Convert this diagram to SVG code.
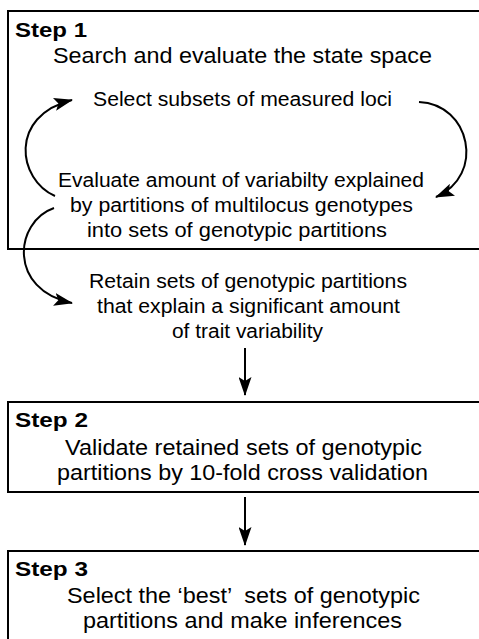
<svg xmlns="http://www.w3.org/2000/svg" width="479" height="639" viewBox="0 0 479 639">
<style>
.box{fill:none;stroke:#000;stroke-width:2}
.t{font-family:"Liberation Sans",Arial,Helvetica,sans-serif;font-size:20px;fill:#000}
.s{font-family:"Liberation Sans",Arial,Helvetica,sans-serif;font-size:22px;fill:#000}
.h{font-family:"Liberation Sans",Arial,Helvetica,sans-serif;font-size:21px;font-weight:bold;fill:#000}
.c{fill:none;stroke:#000;stroke-width:2}
</style>
<defs>
<marker id="ah" markerWidth="19" markerHeight="13" refX="18" refY="6.5" orient="auto" markerUnits="userSpaceOnUse">
<path d="M0,0 L19,6.5 L0,13 L4,6.5 Z" fill="#000"/>
</marker>
</defs>
<g id="step1">
<rect class="box" x="8" y="11" width="480" height="238"/>
<text class="h" x="15" y="37" textLength="72" lengthAdjust="spacingAndGlyphs">Step 1</text>
<text class="s" x="53" y="63" textLength="379" lengthAdjust="spacingAndGlyphs">Search and evaluate the state space</text>
<text class="t" x="93" y="106" textLength="299" lengthAdjust="spacingAndGlyphs">Select subsets of measured loci</text>
<text class="t" x="58" y="187" textLength="366" lengthAdjust="spacingAndGlyphs">Evaluate amount of variabilty explained</text>
<text class="t" x="70" y="212" textLength="343" lengthAdjust="spacingAndGlyphs">by partitions of multilocus genotypes</text>
<text class="t" x="87" y="237" textLength="300" lengthAdjust="spacingAndGlyphs">into sets of genotypic partitions</text>
</g>
<g id="retain">
<text class="t" x="89" y="288" textLength="318" lengthAdjust="spacingAndGlyphs">Retain sets of genotypic partitions</text>
<text class="t" x="97" y="313" textLength="303" lengthAdjust="spacingAndGlyphs">that explain a significant amount</text>
<text class="t" x="172" y="338" textLength="151" lengthAdjust="spacingAndGlyphs">of trait variability</text>
</g>
<g id="step2">
<rect class="box" x="8" y="402" width="480" height="90"/>
<text class="h" x="15" y="427" textLength="73" lengthAdjust="spacingAndGlyphs">Step 2</text>
<text class="s" x="65" y="455" textLength="357" lengthAdjust="spacingAndGlyphs">Validate retained sets of genotypic</text>
<text class="s" x="57" y="480" textLength="371" lengthAdjust="spacingAndGlyphs">partitions by 10-fold cross validation</text>
</g>
<g id="step3">
<rect class="box" x="8" y="551" width="480" height="100"/>
<text class="h" x="15" y="576" textLength="73" lengthAdjust="spacingAndGlyphs">Step 3</text>
<text class="s" x="67" y="603" textLength="353" lengthAdjust="spacingAndGlyphs" style="white-space:pre">Select the ‘best’  sets of genotypic</text>
<text class="s" x="83" y="628" textLength="319" lengthAdjust="spacingAndGlyphs">partitions and make inferences</text>
</g>
<g id="connectors">
<path class="c" d="M55,196 C18,180 8,116 72,100" marker-end="url(#ah)"/>
<path class="c" d="M419,102 C470,104 486,175 436,197" marker-end="url(#ah)"/>
<path class="c" d="M54,208 C14,222 8,290 72,303" marker-end="url(#ah)"/>
<path class="c" d="M245,348 L245,395" marker-end="url(#ah)"/>
<path class="c" d="M245,497 L245,545" marker-end="url(#ah)"/>
</g>
</svg>
